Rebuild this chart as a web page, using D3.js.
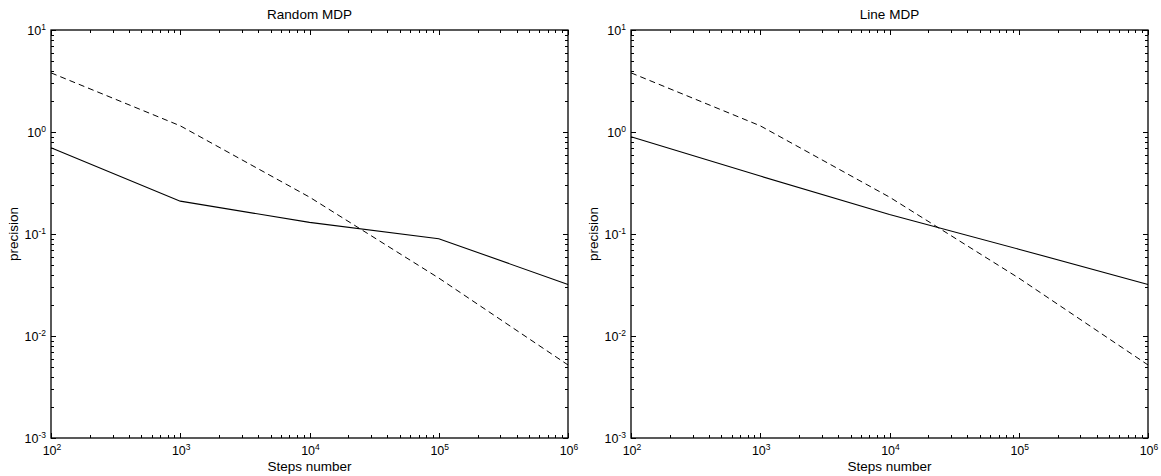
<!DOCTYPE html>
<html><head><meta charset="utf-8">
<script src="https://cdn.jsdelivr.net/npm/d3@7"></script>
<style>body{margin:0;background:#fff}svg{display:block}text{font-family:Arial,"Liberation Sans",Helvetica,sans-serif;fill:#000}</style>
</head><body><svg id="c" width="1161" height="476"></svg>
<script>
const steps = [1e2, 1e3, 1e4, 1e5, 1e6];
const xTickLabels = [1e2, 1e3, 1e4, 1e5, 1e6];
const yTickLabels = [1e-3, 1e-2, 1e-1, 1e0, 1e1];
const randomSolid = [0.70, 0.21, 0.13, 0.09, 0.032];
const randomDashed = [3.8, 1.15, 0.23, 0.037, 0.0052];
const lineSolid = [0.90, 0.37, 0.155, 0.071, 0.032];
const lineDashed = [3.8, 1.15, 0.23, 0.037, 0.0052];
const titles = ["Random MDP", "Line MDP"];

const svg = d3.select("#c");
const panels = [
  {title: titles[0], x0: 51, x1: 568, solid: randomSolid, dashed: randomDashed},
  {title: titles[1], x0: 631, x1: 1148, solid: lineSolid, dashed: lineDashed}
];
const y0 = 30, y1 = 438;
const fs = 12.5, sfs = 8.5;

panels.forEach(p => {
  const x = d3.scaleLog().domain([1e2, 1e6]).range([p.x0, p.x1]);
  const y = d3.scaleLog().domain([1e-3, 1e1]).range([y1, y0]);
  const g = svg.append("g");
  const isMajor = v => Math.abs(Math.log10(v) - Math.round(Math.log10(v))) < 1e-9;

  const xt = x.ticks(10), yt = y.ticks(10);
  const tk = g.append("g").attr("stroke", "#000").attr("stroke-width", 1);
  xt.forEach(v => {
    const len = isMajor(v) ? 5 : 3;
    const px = Math.round(x(v)) + 0.5;
    tk.append("line").attr("x1", px).attr("x2", px).attr("y1", y1).attr("y2", y1 - len);
    tk.append("line").attr("x1", px).attr("x2", px).attr("y1", y0).attr("y2", y0 + len);
  });
  yt.forEach(v => {
    const len = isMajor(v) ? 5 : 3;
    const py = Math.round(y(v)) + 0.5;
    tk.append("line").attr("y1", py).attr("y2", py).attr("x1", p.x0).attr("x2", p.x0 + len);
    tk.append("line").attr("y1", py).attr("y2", py).attr("x1", p.x1).attr("x2", p.x1 - len);
  });

  g.append("rect").attr("x", p.x0).attr("y", y0).attr("width", p.x1 - p.x0).attr("height", y1 - y0)
    .attr("fill", "none").attr("stroke", "#000").attr("stroke-width", 1.3);

  xTickLabels.forEach(v => {
    const t = g.append("text").attr("x", x(v) + 1).attr("y", 455).attr("text-anchor", "middle").attr("font-size", fs);
    t.append("tspan").text("10");
    t.append("tspan").attr("dy", -5).attr("font-size", sfs).text(Math.round(Math.log10(v)));
  });
  yTickLabels.forEach(v => {
    const t = g.append("text").attr("x", p.x0 - 5).attr("y", y(v) + 5).attr("text-anchor", "end").attr("font-size", fs);
    t.append("tspan").text("10");
    t.append("tspan").attr("dy", -5).attr("font-size", sfs).text(Math.round(Math.log10(v)));
  });

  const line = d3.line().x((d, i) => x(steps[i])).y(d => y(d));
  g.append("path").datum(p.dashed).attr("d", line).attr("fill", "none").attr("stroke", "#000")
    .attr("stroke-width", 1).attr("stroke-dasharray", "6,4");
  g.append("path").datum(p.solid).attr("d", line).attr("fill", "none").attr("stroke", "#000")
    .attr("stroke-width", 1.1);

  const cx = (p.x0 + p.x1) / 2;
  g.append("text").attr("x", cx).attr("y", 19).attr("text-anchor", "middle").attr("font-size", 13.5).text(p.title);
  g.append("text").attr("x", cx).attr("y", 471).attr("text-anchor", "middle").attr("font-size", 13.5).text("Steps number");
  g.append("text").attr("transform", `translate(${p.x0 - 33},${(y0 + y1) / 2}) rotate(-90)`)
    .attr("text-anchor", "middle").attr("font-size", 13.5).text("precision");
});
</script></body></html>
